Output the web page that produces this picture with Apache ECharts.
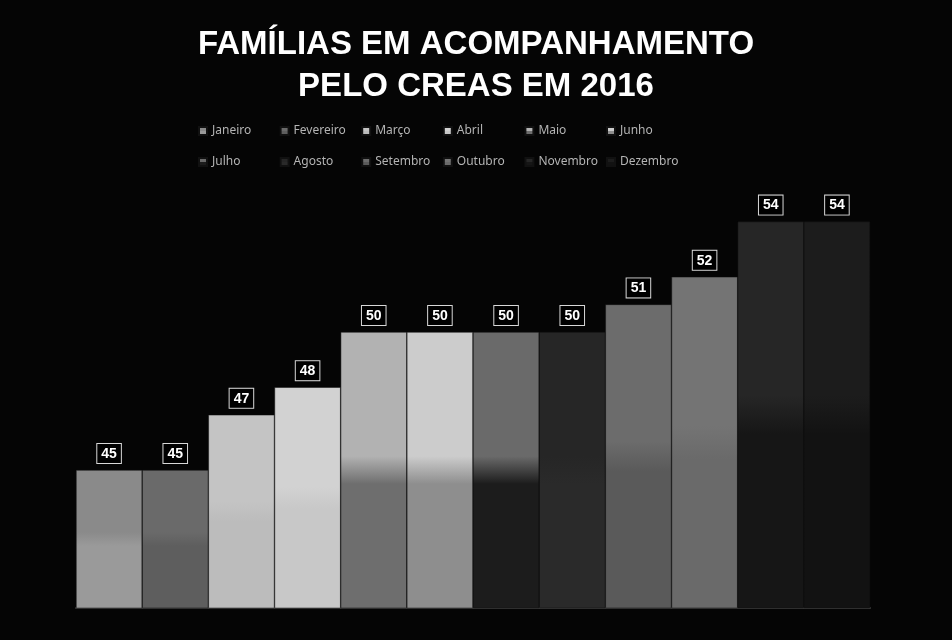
<!DOCTYPE html>
<html>
<head>
<meta charset="utf-8">
<script src="https://cdn.jsdelivr.net/npm/echarts@6/dist/echarts.min.js"></script>
<style>
html,body{margin:0;padding:0;background:#050505;}
#c{width:952px;height:640px;}
</style>
</head>
<body>
<div id="c"></div>
<script>
const months = ['Janeiro','Fevereiro','Março','Abril','Maio','Junho','Julho','Agosto','Setembro','Outubro','Novembro','Dezembro'];
const values = [45,45,47,48,50,50,50,50,51,52,54,54];
const titleText = 'FAMÍLIAS EM ACOMPANHAMENTO\nPELO CREAS EM 2016';

const topColors = ['#8a8a8a','#6a6a6a','#c4c4c4','#d2d2d2','#b2b2b2','#cccccc','#6a6a6a','#262626','#6c6c6c','#747474','#262626','#1c1c1c'];
const botColors = ['#9a9a9a','#5e5e5e','#bcbcbc','#c8c8c8','#6e6e6e','#8e8e8e','#1c1c1c','#2a2a2a','#5a5a5a','#6a6a6a','#161616','#121212'];

const chart = echarts.init(document.getElementById('c'), null, {renderer:'canvas'});

const legends = months.map((m, i) => {
  const col = i % 6, row = Math.floor(i / 6);
  return {
    data: [m],
    left: 193 + col * 81.6,
    top: 120 + row * 31,
    itemWidth: 8, itemHeight: 8, itemGap: 0,
    icon: 'rect',
    textStyle: {color: '#b4b4b4', fontSize: 12, fontFamily: 'Noto Sans'},
    selectedMode: false
  };
});

const series = months.map((m, i) => ({
  name: m,
  type: 'bar',
  data: [values[i]],
  barGap: '0%',
  barCategoryGap: '0%',
  itemStyle: {
    color: new echarts.graphic.LinearGradient(0,0,0,1,[
      {offset:0,color:topColors[i]},
      {offset:0.45,color:topColors[i]},
      {offset:0.55,color:botColors[i]},
      {offset:1,color:botColors[i]}
    ]),
    borderColor: '#111', borderWidth: 0.5
  },
  label: {
    show: true, position: 'top', distance: 7,
    color: '#ffffff', fontSize: 14, fontWeight: 'bold', fontFamily: 'Liberation Sans',
    backgroundColor: '#000', borderColor: '#d8d8d8', borderWidth: 1,
    padding: [3,4,2,4]
  }
}));

chart.setOption({
  backgroundColor: '#050505',
  animation: false,
  title: {
    text: titleText, left: 'center', top: 19,
    textStyle: {color: '#ffffff', fontSize: 33, fontWeight: 'bold', fontFamily: 'Liberation Sans', lineHeight: 42}
  },
  legend: legends,
  grid: {left: 76, right: 82, top: 194, bottom: 32},
  xAxis: {
    type: 'category', data: [''],
    axisLine: {show: true, lineStyle: {color: '#3a3a3a', width: 2}},
    axisTick: {show: false}, axisLabel: {show: false}
  },
  yAxis: {
    type: 'value', min: 40, max: 55, interval: 5,
    show: false, splitLine: {show: false}
  },
  series: series
});
</script>
</body>
</html>
